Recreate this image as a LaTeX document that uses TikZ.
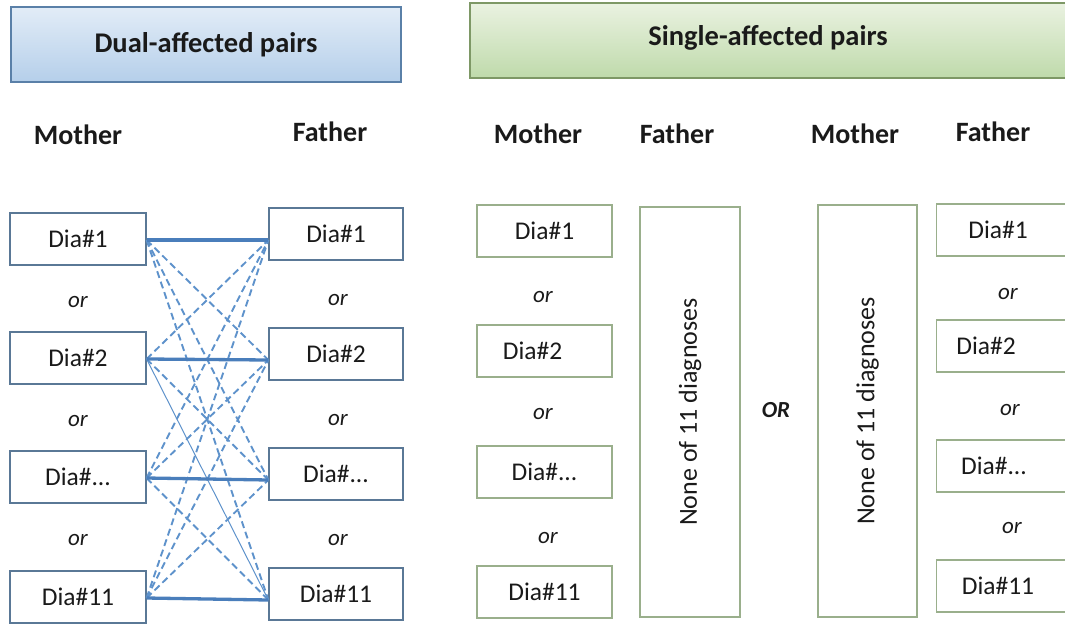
\documentclass[tikz,border=0pt]{standalone}
\usepackage{fontspec}
\setmainfont{Carlito}
\usetikzlibrary{calc}
\definecolor{txt}{HTML}{1A1A1A}
\definecolor{blueedge}{HTML}{5A7896}
\definecolor{greenedge}{HTML}{9AAF8C}
\definecolor{titleblueedge}{HTML}{5A80A8}
\definecolor{titlegreenedge}{HTML}{7E9866}
\definecolor{linkblue}{HTML}{4A7EBB}
\definecolor{dashblue}{HTML}{5E92CB}
\definecolor{bluetop}{HTML}{E2ECF7}
\definecolor{bluebot}{HTML}{B5CFEA}
\definecolor{greentop}{HTML}{EAF2E1}
\definecolor{greenbot}{HTML}{BFDAAB}
\tikzset{
  dbox/.style={draw=blueedge, line width=1.2pt, minimum width=136pt, minimum height=52pt, inner sep=0pt, font=\fontsize{25.5}{30}\selectfont, text=txt},
  sbox/.style={draw=greenedge, line width=1.2pt, minimum width=135pt, minimum height=52pt, inner sep=0pt, font=\fontsize{25.5}{30}\selectfont, text=txt},
  tallbox/.style={draw=greenedge, line width=1.2pt, minimum width=100pt, minimum height=410pt, inner sep=0pt},
  vtext/.style={rotate=90, font=\fontsize{26}{30}\selectfont, text=txt},
  ortext/.style={font=\fontsize{23}{27}\selectfont\itshape, text=txt},
  head/.style={font=\fontsize{28}{32}\selectfont\bfseries, text=txt},
  titletext/.style={font=\fontsize{28.5}{32}\selectfont\bfseries, text=txt},
  sameline/.style={draw=linkblue, line width=3.3pt},
  crossline/.style={draw=dashblue, line width=1.9pt, dash pattern=on 7pt off 4pt},
  thinline/.style={draw=dashblue, line width=1pt},
}
\begin{document}
\begin{tikzpicture}[x=1pt,y=-1pt]
\useasboundingbox (0,0) rectangle (1065,624);
\clip (0,0) rectangle (1065,624);
% title boxes
\node[draw=titleblueedge, line width=1.5pt, top color=bluetop, bottom color=bluebot, minimum width=390pt, minimum height=75pt, inner sep=0pt] (dualT) at (206,44.5) {};
\node[titletext] at (dualT) {Dual-affected pairs};
\node[draw=titlegreenedge, line width=1.5pt, top color=greentop, bottom color=greenbot, minimum width=610pt, minimum height=75pt, inner sep=0pt] (singT) at (775,40.5) {};
\node[titletext] at (768,38) {Single-affected pairs};
% headers
\node[head] (hM1) at (78,135) {Mother};
\node[head] (hF1) at (330,132) {Father};
\node[head] (hM2) at (538,134) {Mother};
\node[head] (hF2) at (677,134) {Father};
\node[head] (hM3) at (855,134) {Mother};
\node[head] (hF3) at (993,132) {Father};
% dual boxes
\node[dbox] (M1) at (78,239) {Dia\#1};
\node[dbox] (M2) at (78,358) {Dia\#2};
\node[dbox] (M3) at (78,477) {Dia\#...};
\node[dbox] (M4) at (78,597) {Dia\#11};
\node[dbox, minimum width=134pt] (F1) at (336,234) {Dia\#1};
\node[dbox, minimum width=134pt] (F2) at (336,354) {Dia\#2};
\node[dbox, minimum width=134pt] (F3) at (336,474) {Dia\#...};
\node[dbox, minimum width=134pt] (F4) at (336,594) {Dia\#11};
\node[ortext] (o1) at (78,302) {or};
\node[ortext] (o2) at (78,421) {or};
\node[ortext] (o3) at (78,540) {or};
\node[ortext] (o4) at (338,300) {or};
\node[ortext] (o5) at (338,420) {or};
\node[ortext] (o6) at (338,540) {or};
% connectors
\foreach \i/\j in {1/2,1/3,1/4,2/1,2/3,3/1,3/2,3/4,4/1,4/2,4/3}{
  \draw[crossline] ([yshift=-1pt]M\i.east) -- ([yshift=-6pt]F\j.west);
}
\draw[thinline] ([yshift=-1pt]M2.east) -- ([yshift=-6pt]F4.west);
\foreach \i in {1,2,3,4}{
  \draw[sameline] ([yshift=-1pt]M\i.east) -- ([yshift=-6pt]F\i.west);
}
% single-affected, left half
\node[sbox] (SM1) at (544.5,231) {Dia\#1};
\node[sbox] (SM2) at (544.5,351) {\hspace*{-24pt}Dia\#2};
\node[sbox] (SM3) at (544.5,472) {Dia\#...};
\node[sbox] (SM4) at (544.5,592) {Dia\#11};
\node[ortext] (so1) at (543,297) {or};
\node[ortext] (so2) at (543,414) {or};
\node[ortext] (so3) at (548,538) {or};
\node[tallbox] (T1) at (690,412) {};
\node[vtext] at (T1) {None of 11 diagnoses};
\node[font=\fontsize{23}{27}\selectfont\bfseries\itshape, text=txt] (OR) at (776,410) {OR};
\node[tallbox, minimum width=99pt, minimum height=412pt] (T2) at (867.5,411) {};
\node[vtext] at (T2) {None of 11 diagnoses};
% single-affected, right half
\node[sbox] (SF1) at (1004,230) {\hspace*{-12pt}Dia\#1};
\node[sbox] (SF2) at (1004,346) {\hspace*{-36pt}Dia\#2};
\node[sbox] (SF3) at (1004,466) {\hspace*{-20pt}Dia\#...};
\node[sbox] (SF4) at (1004,586) {\hspace*{-12pt}Dia\#11};
\node[ortext] (sfo1) at (1008,294) {or};
\node[ortext] (sfo2) at (1010,410) {or};
\node[ortext] (sfo3) at (1012,528) {or};
\end{tikzpicture}
\end{document}
